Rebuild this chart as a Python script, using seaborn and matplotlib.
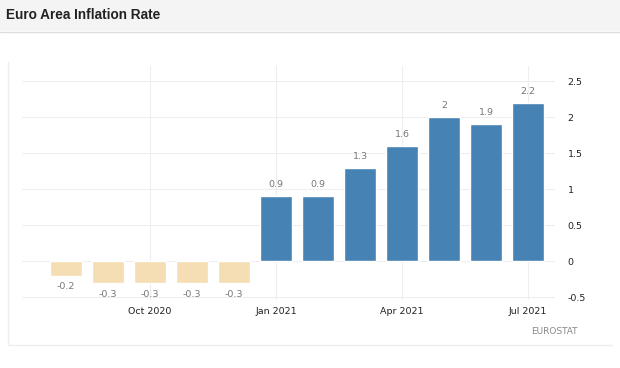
import numpy as np
import pandas as pd
import matplotlib
matplotlib.use("Agg")
import matplotlib.pyplot as plt
import seaborn as sns
from matplotlib.patches import Rectangle
from matplotlib.lines import Line2D

months = ["Aug 2020", "Sep 2020", "Oct 2020", "Nov 2020", "Dec 2020", "Jan 2021",
          "Feb 2021", "Mar 2021", "Apr 2021", "May 2021", "Jun 2021", "Jul 2021"]
values = [-0.2, -0.3, -0.3, -0.3, -0.3, 0.9, 0.9, 1.3, 1.6, 2.0, 1.9, 2.2]
value_labels = ["-0.2", "-0.3", "-0.3", "-0.3", "-0.3", "0.9", "0.9", "1.3", "1.6", "2", "1.9", "2.2"]
shown_ticks = ["Oct 2020", "Jan 2021", "Apr 2021", "Jul 2021"]
y_ticks = [-0.5, 0, 0.5, 1, 1.5, 2, 2.5]
y_tick_labels = ["-0.5", "0", "0.5", "1", "1.5", "2", "2.5"]

df = pd.DataFrame({"month": months, "value": values})
df["sign"] = np.where(df["value"] < 0, "neg", "pos")

sns.set_style("white")
plt.rcParams["font.family"] = ["DejaVu Sans"]

W, H = 620, 368
fig = plt.figure(figsize=(W / 100, H / 100), dpi=100)

# header band
fig.patches.append(Rectangle((0, 1 - 31 / H), 1, 31 / H, transform=fig.transFigure,
                             facecolor="#f4f4f4", edgecolor="none", zorder=0))
fig.lines.append(Line2D([0, 1], [1 - 31.5 / H] * 2, transform=fig.transFigure,
                        color="#dcdcdc", lw=1))
fig.text(6 / W, 1 - 15 / H, "Euro Area Inflation Rate", family="Liberation Sans",
         fontweight="bold", fontsize=9.8, color="#222222", va="center", ha="left")

# outer box of chart
fig.lines.append(Line2D([8 / W, 8 / W], [1 - 62 / H, 1 - 345 / H], transform=fig.transFigure,
                        color="#eeeeee", lw=1))
fig.lines.append(Line2D([8 / W, 612 / W], [1 - 345 / H] * 2, transform=fig.transFigure,
                        color="#eeeeee", lw=1))

ax = fig.add_axes([22 / W, 1 - 300 / H, (555 - 22) / W, (300 - 66) / H])
sns.barplot(data=df, x="month", y="value", hue="sign",
            palette={"neg": "#f5deb3", "pos": "#4682b4"},
            dodge=False, width=0.77, legend=False, ax=ax, saturation=1)

ax.set_xlim(-1.05, 11.64)
ax.set_ylim(-0.54, 2.71)
ax.yaxis.tick_right()
ax.set_yticks(y_ticks)
ax.set_yticklabels(y_tick_labels)
tick_pos = [months.index(m) for m in shown_ticks]
ax.set_xticks(tick_pos)
ax.set_xticklabels(shown_ticks)
ax.tick_params(axis="both", length=0, labelsize=6.8, colors="#222222")
ax.tick_params(axis="y", pad=9)
ax.tick_params(axis="x", pad=5)
for lab in ax.get_yticklabels():
    lab.set_horizontalalignment("left")
ax.set_xlabel("")
ax.set_ylabel("")
for s in ax.spines.values():
    s.set_visible(False)

for yv in y_ticks:
    ax.axhline(yv, color="#eeeeee", lw=0.8, zorder=0)
for xv in tick_pos:
    ax.axvline(xv, color="#eeeeee", lw=0.8, zorder=0)

for i, (v, lab) in enumerate(zip(values, value_labels)):
    if v >= 0:
        ax.annotate(lab, (i, v), xytext=(0, 5), textcoords="offset points",
                    ha="center", va="bottom", fontsize=6.8, color="#777777")
    else:
        ax.annotate(lab, (i, v), xytext=(0, -5), textcoords="offset points",
                    ha="center", va="top", fontsize=6.8, color="#777777")

fig.text(578 / W, 1 - 332 / H, "EUROSTAT", fontsize=6.5, color="#888888",
         ha="right", va="center")

fig.savefig("out.png", dpi=100)
